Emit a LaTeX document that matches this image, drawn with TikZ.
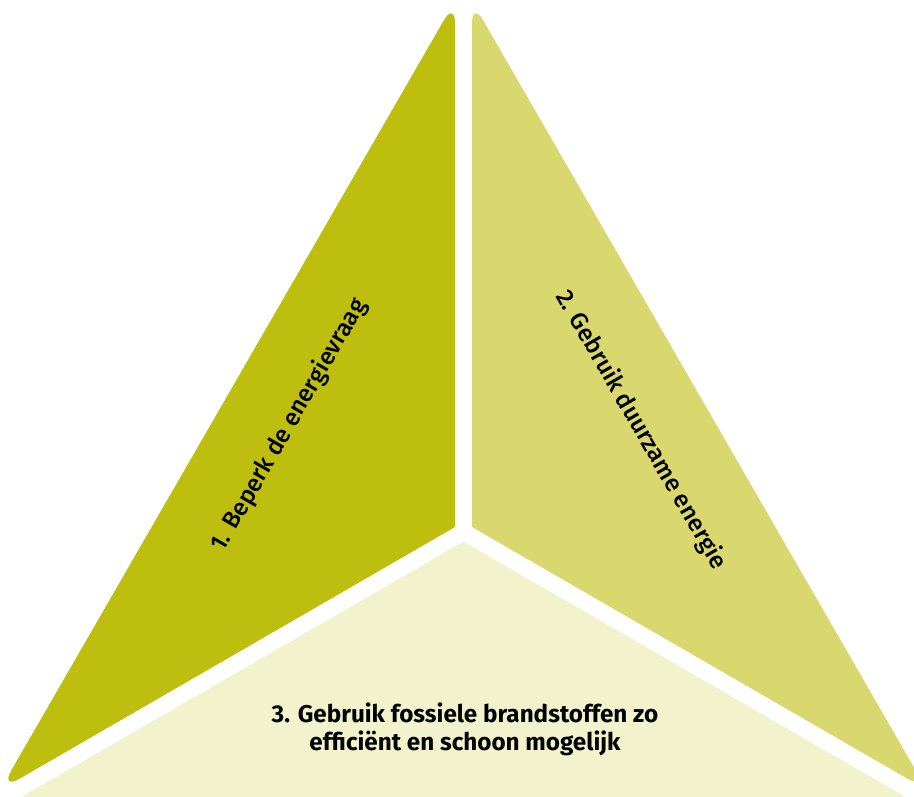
\documentclass[tikz,border=0pt]{standalone}
\usepackage{fontspec}
\setmainfont{Fira Sans}
\newfontfamily\firamedium{Fira Sans Medium}
\definecolor{vraag}{RGB}{189,190,14}
\definecolor{duurzaam}{RGB}{217,216,110}
\definecolor{fossiel}{RGB}{242,242,204}
\begin{document}
\begin{tikzpicture}[x=0.02cm, y=-0.02cm,
  label/.style={font=\fontsize{13.8}{16}\selectfont\firamedium, align=center}]
 \useasboundingbox (0,0) rectangle (914,797);
 \clip (0,0) rectangle (914,797);
 % three parts of the triangle
 \fill[vraag] (455,527) [rounded corners=13pt] -- (455,1) -- (0,790) [sharp corners] -- cycle;
 \fill[duurzaam] (472,527) [rounded corners=13pt] -- (472,1) -- (927,790) [sharp corners] -- cycle;
 \fill[fossiel] (463.5,541.7) [rounded corners=13pt] -- (919.5,805) -- (7.5,805) [sharp corners] -- cycle;
 % labels
 \node[label, rotate=60] (l1) at (289,425) {1. Beperk de energievraag};
 \node[label, rotate=-60] (l2) at (641,430) {2. Gebruik duurzame energie};
 \node[label, font=\fontsize{13.8}{16}\selectfont\bfseries] (l3) at (465,729) {3. Gebruik fossiele brandstoffen zo\\efficiënt en schoon mogelijk};
\end{tikzpicture}
\end{document}
